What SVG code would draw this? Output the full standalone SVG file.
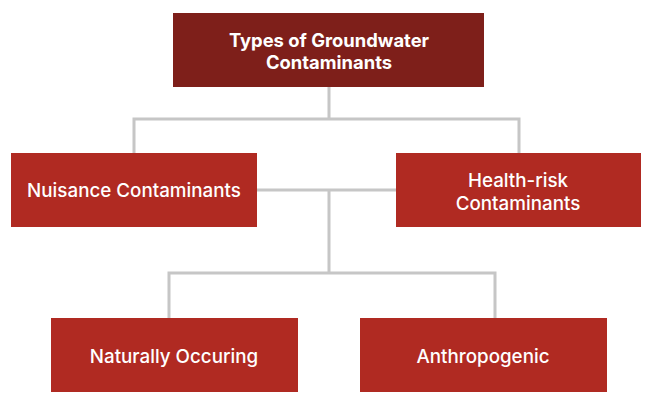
<svg xmlns="http://www.w3.org/2000/svg" width="649" height="402" viewBox="0 0 649 402">
<style>
.root{fill:#7E1F1A}
.box{fill:#B02A22}
.t{font-family:Inter,"Liberation Sans",sans-serif;fill:#fff;text-anchor:middle;dominant-baseline:central;font-size:18.8px;font-weight:500}
.tb{font-weight:700;font-size:18.4px}
.c{fill:none;stroke:#C6C6C6;stroke-width:3}
</style>
<rect width="649" height="402" fill="#fff"/>
<g id="connectors">
<path class="c" d="M329 87V119M134 153V119H519V153"/>
<path class="c" d="M257 190H396M329 190V273M169 318V273H495V318"/>
</g>
<g id="root">
<rect class="root" x="173" y="13" width="311" height="74"/>
<text class="t tb" x="329" y="40">Types of Groundwater</text>
<text class="t tb" x="329" y="62">Contaminants</text>
</g>
<g id="nuisance">
<rect class="box" x="11" y="153" width="246" height="74"/>
<text class="t" x="134" y="190">Nuisance Contaminants</text>
</g>
<g id="health">
<rect class="box" x="396" y="153" width="245" height="74"/>
<text class="t" x="518" y="180">Health-risk</text>
<text class="t" x="518" y="203">Contaminants</text>
</g>
<g id="natural">
<rect class="box" x="51" y="318" width="247" height="74"/>
<text class="t" x="174" y="356">Naturally Occuring</text>
</g>
<g id="anthro">
<rect class="box" x="360" y="318" width="247" height="74"/>
<text class="t" x="483" y="356">Anthropogenic</text>
</g>
</svg>
